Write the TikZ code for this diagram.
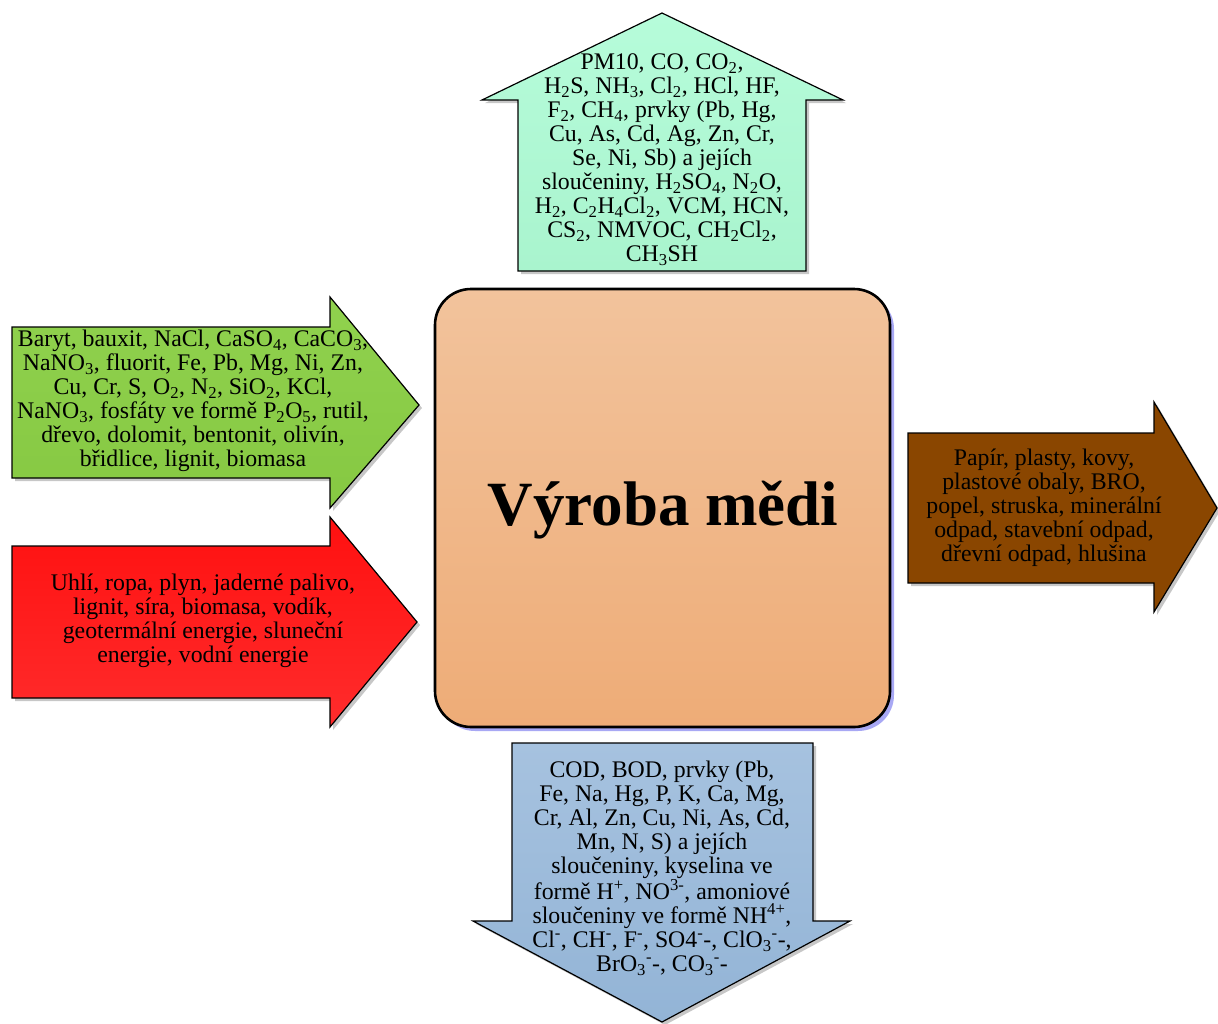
\documentclass[tikz,border=0pt]{standalone}
\usepackage{fontspec}
\setmainfont{Liberation Serif}
\usetikzlibrary{shadows}

\definecolor{mintA}{HTML}{B6FCDA}
\definecolor{mintB}{HTML}{A9F4CE}
\definecolor{grnA}{HTML}{90D24E}
\definecolor{grnB}{HTML}{86C842}
\definecolor{redA}{HTML}{FF1010}
\definecolor{redB}{HTML}{FF2C2C}
\definecolor{brn}{HTML}{8A4600}
\definecolor{bluA}{HTML}{A6C2DF}
\definecolor{bluB}{HTML}{93B4D6}
\definecolor{boxA}{HTML}{F2C39C}
\definecolor{boxB}{HTML}{EEAC77}
\definecolor{lav}{HTML}{A8A8F4}

\tikzset{
  blockarrow/.style={draw=black, line width=1.2pt, line join=miter,
    drop shadow={shadow xshift=3pt, shadow yshift=-3pt, fill=black!22, opacity=1}},
  txt/.style={align=center, inner sep=0pt, text=black,
    font=\fontsize{23.8}{24}\selectfont},
  mainbox/.style={draw=black, line width=2.6pt, rounded corners=36pt,
    drop shadow={shadow xshift=4pt, shadow yshift=-4pt, fill=lav, opacity=1}},
}

\begin{document}
\begin{tikzpicture}[x=1pt, y=-1pt]
\useasboundingbox (0,0) rectangle (1218,1023);

% emissions to air (upward arrow)
\path[blockarrow, top color=mintA, bottom color=mintB]
  (662,13) -- (843,100) -- (806,100) -- (806,271) -- (518,271)
  -- (518,100) -- (482,100) -- cycle;

% raw materials (left, green)
\path[blockarrow, top color=grnA, bottom color=grnB]
  (12,327) -- (330,327) -- (330,297) -- (419,405) -- (330,508)
  -- (330,478) -- (12,478) -- cycle;

% energy sources (left, red)
\path[blockarrow, top color=redA, bottom color=redB]
  (12,546) -- (330,546) -- (330,517) -- (417,622) -- (330,727)
  -- (330,698) -- (12,698) -- cycle;

% waste (right, brown)
\path[blockarrow, fill=brn]
  (908,433) -- (1154,433) -- (1154,402) -- (1217,508) -- (1154,612)
  -- (1154,583) -- (908,583) -- cycle;

% emissions to water (downward arrow)
\path[blockarrow, top color=bluA, bottom color=bluB]
  (512,743) -- (813,743) -- (813,921) -- (850,921) -- (662,1022)
  -- (473,921) -- (512,921) -- cycle;

% central process
\path[mainbox, top color=boxA, bottom color=boxB]
  (435,289) rectangle (890,727);
\node[font=\fontsize{63}{70}\selectfont\bfseries, inner sep=0pt] (proc)
  at (663,510) {Výroba mědi};

\node[txt] (air) at (662,160) {PM10, CO, CO\textsubscript{2},\\
H\textsubscript{2}S, NH\textsubscript{3}, Cl\textsubscript{2}, HCl, HF,\\
F\textsubscript{2}, CH\textsubscript{4}, prvky (Pb, Hg,\\
Cu, As, Cd, Ag, Zn, Cr,\\
Se, Ni, Sb) a jejích\\
sloučeniny, H\textsubscript{2}SO\textsubscript{4}, N\textsubscript{2}O,\\
H\textsubscript{2}, C\textsubscript{2}H\textsubscript{4}Cl\textsubscript{2}, VCM, HCN,\\
CS\textsubscript{2}, NMVOC, CH\textsubscript{2}Cl\textsubscript{2},\\
CH\textsubscript{3}SH};

\node[txt] (raw) at (193,401) {Baryt, bauxit, NaCl, CaSO\textsubscript{4}, CaCO\textsubscript{3},\\
NaNO\textsubscript{3}, fluorit, Fe, Pb, Mg, Ni, Zn,\\
Cu, Cr, S, O\textsubscript{2}, N\textsubscript{2}, SiO\textsubscript{2}, KCl,\\
NaNO\textsubscript{3}, fosfáty ve formě P\textsubscript{2}O\textsubscript{5}, rutil,\\
dřevo, dolomit, bentonit, olivín,\\
břidlice, lignit, biomasa};

\node[txt] (energy) at (203,621) {Uhlí, ropa, plyn, jaderné palivo,\\
lignit, síra, biomasa, vodík,\\
geotermální energie, sluneční\\
energie, vodní energie};

\node[txt] (waste) at (1044,508) {Papír, plasty, kovy,\\
plastové obaly, BRO,\\
popel, struska, minerální\\
odpad, stavební odpad,\\
dřevní odpad, hlušina};

\node[txt] (water) at (662,868) {COD, BOD, prvky (Pb,\\
Fe, Na, Hg, P, K, Ca, Mg,\\
Cr, Al, Zn, Cu, Ni, As, Cd,\\
Mn, N, S) a jejích\\
sloučeniny, kyselina ve\\
formě H\textsuperscript{+}, NO\textsuperscript{3-}, amoniové\\
sloučeniny ve formě NH\textsuperscript{4+},\\
Cl\textsuperscript{-}, CH\textsuperscript{-}, F\textsuperscript{-}, SO4\textsuperscript{-}-, ClO\textsubscript{3}\textsuperscript{-}-,\\
BrO\textsubscript{3}\textsuperscript{-}-, CO\textsubscript{3}\textsuperscript{-}-};
\end{tikzpicture}
\end{document}
